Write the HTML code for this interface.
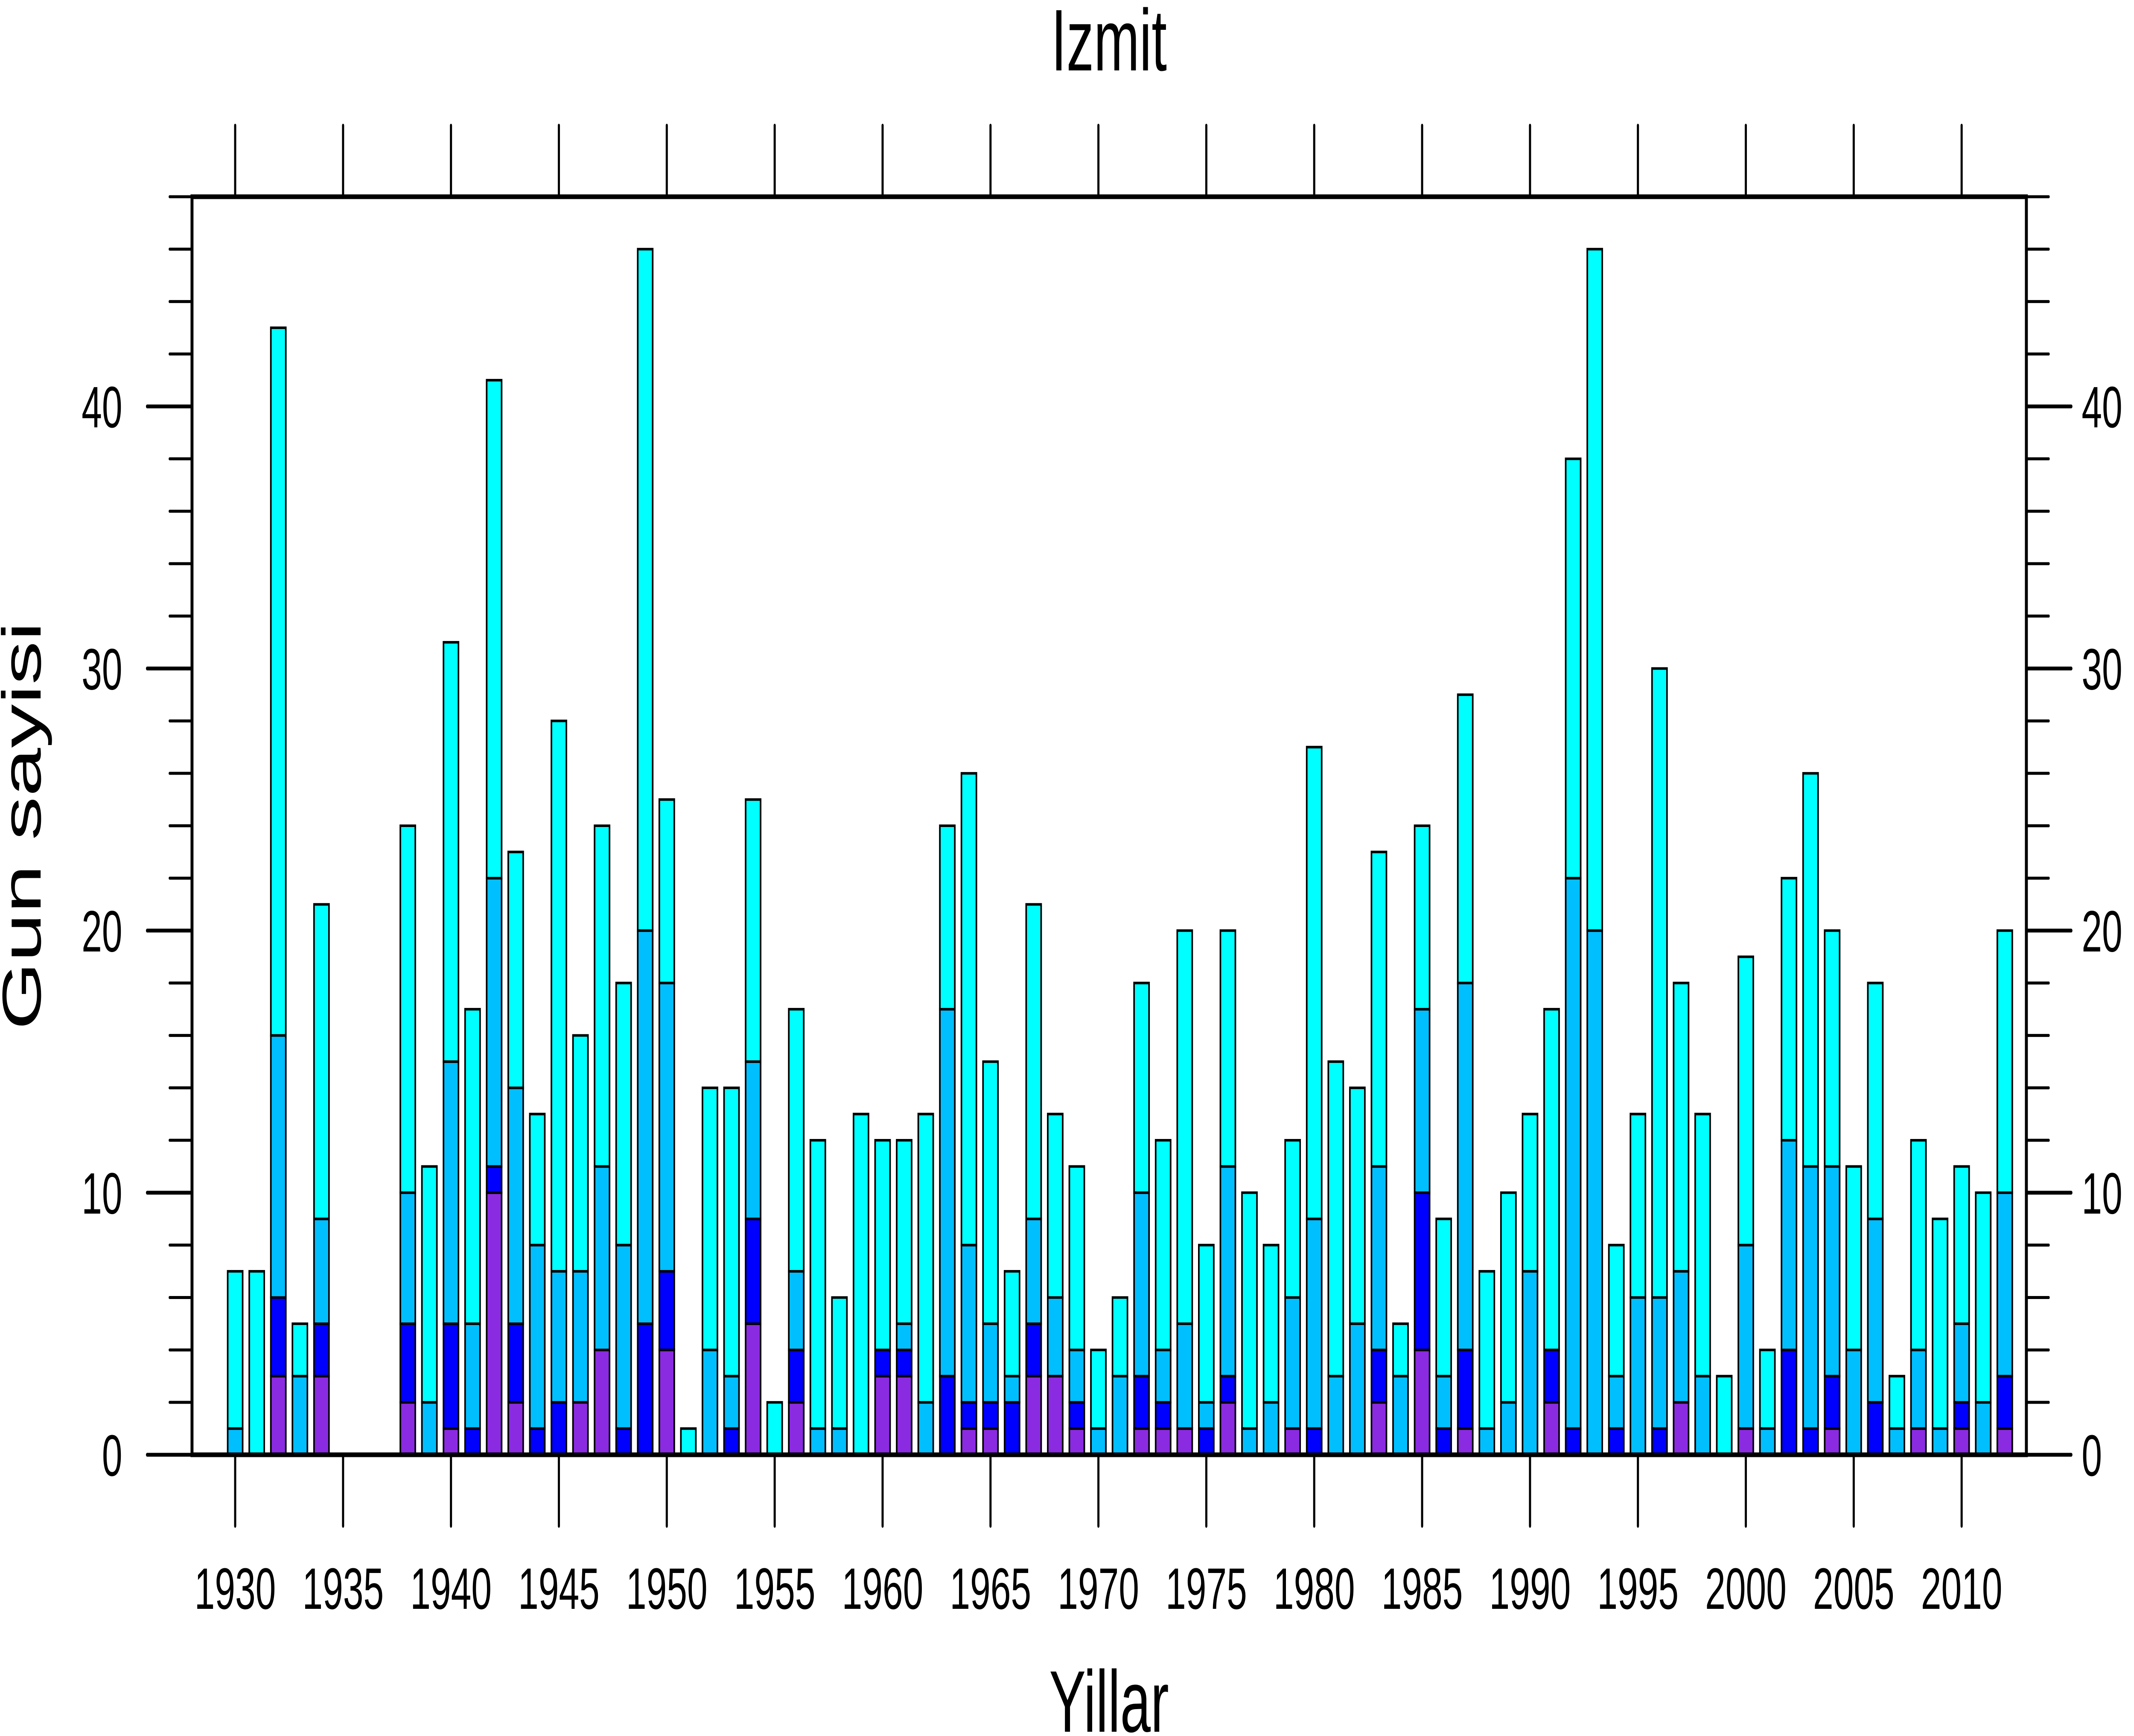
<!DOCTYPE html>
<html><head><meta charset="utf-8">
<style>
html,body{margin:0;padding:0;background:#fff;width:100%;height:100%;overflow:hidden;}
svg{display:block;position:fixed;left:0;top:0;width:100vw;height:100vh;}
text{font-family:"Liberation Sans",sans-serif;fill:#000;}
</style></head><body>
<svg id="s" viewBox="0 0 7991 4068" preserveAspectRatio="none" xmlns="http://www.w3.org/2000/svg">
<text x="4153" y="165" font-size="205" text-anchor="middle">Izmit</text>
<text x="4153" y="4058" font-size="205" text-anchor="middle">Yillar</text>
<text transform="translate(152,1935) rotate(-90)" font-size="205" text-anchor="middle">Gun sayisi</text>
<g id="bars"></g>
<g id="axes"></g>
</svg>
<script>
var L=719,R=7588,T=461,B=3409,x0=1928,x1=2013,ymax=48;
function X(y){return L+(y-x0)*(R-L)/(x1-x0);}
function Y(v){return B-v*(B-T)/ymax;}
var d={1930:[0,0,1,7],1931:[0,0,0,7],1932:[3,6,16,43],1933:[0,0,3,5],1934:[3,5,9,21],
1938:[2,5,10,24],1939:[0,0,2,11],1940:[1,5,15,31],1941:[0,1,5,17],1942:[10,11,22,41],1943:[2,5,14,23],
1944:[0,1,8,13],1945:[0,2,7,28],1946:[2,2,7,16],1947:[4,4,11,24],1948:[0,1,8,18],1949:[0,5,20,46],
1950:[4,7,18,25],1951:[0,0,0,1],1952:[0,0,4,14],1953:[0,1,3,14],1954:[5,9,15,25],1955:[0,0,0,2],
1956:[2,4,7,17],1957:[0,0,1,12],1958:[0,0,1,6],1959:[0,0,0,13],1960:[3,4,4,12],1961:[3,4,5,12],
1962:[0,0,2,13],1963:[0,3,17,24],1964:[1,2,8,26],1965:[1,2,5,15],1966:[0,2,3,7],1967:[3,5,9,21],
1968:[3,3,6,13],1969:[1,2,4,11],1970:[0,0,1,4],1971:[0,0,3,6],1972:[1,3,10,18],1973:[1,2,4,12],
1974:[1,1,5,20],1975:[0,1,2,8],1976:[2,3,11,20],1977:[0,0,1,10],1978:[0,0,2,8],1979:[1,1,6,12],
1980:[0,1,9,27],1981:[0,0,3,15],1982:[0,0,5,14],1983:[2,4,11,23],1984:[0,0,3,5],1985:[4,10,17,24],
1986:[0,1,3,9],1987:[1,4,18,29],1988:[0,0,1,7],1989:[0,0,2,10],1990:[0,0,7,13],1991:[2,4,4,17],
1992:[0,1,22,38],1993:[0,0,20,46],1994:[0,1,3,8],1995:[0,0,6,13],1996:[0,1,6,30],1997:[2,2,7,18],
1998:[0,0,3,13],1999:[0,0,0,3],2000:[1,1,8,19],2001:[0,0,1,4],2002:[0,4,12,22],2003:[0,1,11,26],
2004:[1,3,11,20],2005:[0,0,4,11],2006:[0,2,9,18],2007:[0,0,1,3],2008:[1,1,4,12],2009:[0,0,1,9],
2010:[1,2,5,11],2011:[0,0,2,10],2012:[1,3,10,20]};
var cols=["#8A2BE2","#0000FF","#00BFFF","#00FFFF"];
var h="",w=56;
for(var y in d){var v=d[y],p=0,cx=X(+y);
 for(var i=0;i<4;i++){if(v[i]>p){h+='<rect x="'+(cx-w/2)+'" y="'+Y(v[i])+'" width="'+w+'" height="'+(Y(p)-Y(v[i]))+'" fill="'+cols[i]+'" stroke="#000" stroke-width="6"/>';p=v[i];}}}
document.getElementById("bars").innerHTML=h;
var a='<rect x="'+L+'" y="'+T+'" width="'+(R-L)+'" height="'+(B-T)+'" fill="none" stroke="#000" stroke-width="11"/>';
for(var v=0;v<=48;v+=2){var yy=Y(v),mj=(v%10==0),len=mj?168:84;
 a+='<line x1="'+(L-len)+'" y1="'+yy+'" x2="'+L+'" y2="'+yy+'" stroke="#000" stroke-width="'+(mj?9:7)+'" stroke-linecap="round"/>';
 a+='<line x1="'+R+'" y1="'+yy+'" x2="'+(R+len)+'" y2="'+yy+'" stroke="#000" stroke-width="'+(mj?9:7)+'" stroke-linecap="round"/>';
 if(mj){a+='<text x="458" y="'+(yy+49)+'" font-size="137" text-anchor="end">'+v+'</text>';
 a+='<text x="7795" y="'+(yy+49)+'" font-size="137">'+v+'</text>';}}
for(var yr=1930;yr<=2010;yr+=5){var xx=X(yr);
 a+='<line x1="'+xx+'" y1="'+B+'" x2="'+xx+'" y2="'+(B+167)+'" stroke="#000" stroke-width="8" stroke-linecap="round"/>';
 a+='<line x1="'+xx+'" y1="'+T+'" x2="'+xx+'" y2="'+(T-167)+'" stroke="#000" stroke-width="8" stroke-linecap="round"/>';
 a+='<text x="'+xx+'" y="3770" font-size="137" text-anchor="middle">'+yr+'</text>';}
document.getElementById("axes").innerHTML=a;
</script>
</body></html>
